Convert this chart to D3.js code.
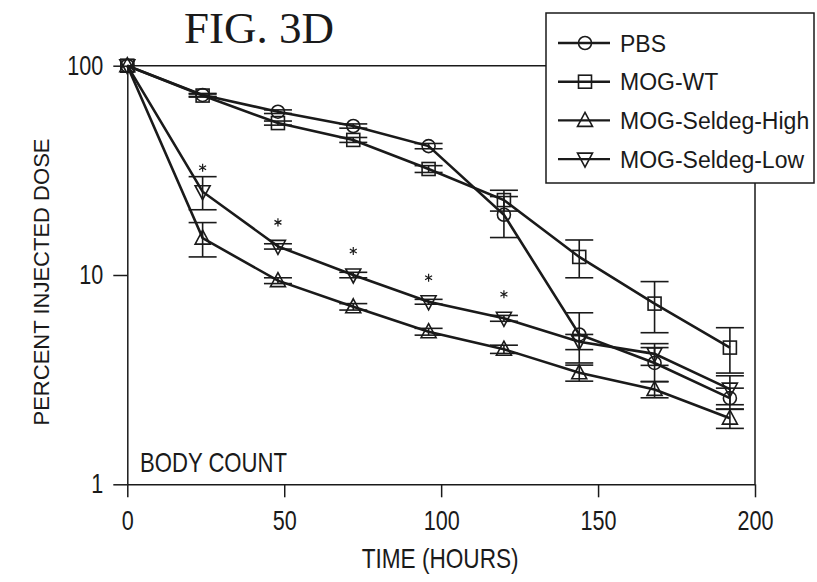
<!DOCTYPE html>
<html>
<head>
<meta charset="utf-8">
<script src="https://cdn.jsdelivr.net/npm/d3@7"></script>
<style>
  body { margin: 0; background: #fff; }
  svg { display: block; }
  text { font-family: "Liberation Sans", Arial, sans-serif; fill: #1a1a1a; }
</style>
</head>
<body>
<script>
// time points (hours)
var hours = [0, 24, 48, 72, 96, 120, 144, 168, 192];

// mean percent injected dose per group
var pbs      = [100, 72.5, 60.3, 51.5, 41.3, 19.4, 5.2, 3.8, 2.58];
var mogWt    = [100, 72, 53.2, 44.2, 32.1, 22.8, 12.2, 7.3, 4.5];
var seldegHi = [100, 15, 9.4, 7.05, 5.36, 4.42, 3.41, 2.84, 2.07];
var seldegLo = [100, 25, 13.7, 10.0, 7.45, 6.21, 4.8, 4.2, 2.85];

// error bars (+/-)
var pbsErr      = [0, 1.2, 1.2, 1.2, 1.2, 4.3, 1.4, 0.7, 0.3];
var mogWtErr    = [0, 1.2, 1.2, 1.2, 1.2, 2.6, 2.5, 2.0, 1.1];
var seldegHiErr = [0, 2.8, 0.3, 0.25, 0.2, 0.2, 0.3, 0.25, 0.22];
var seldegLoErr = [0, 4.5, 0.4, 0.3, 0.2, 0.2, 0.4, 0.5, 0.45];

// significance marks (hours)
var starHours = [24, 48, 72, 96, 120];

var xTicks = [0, 50, 100, 150, 200];
var yTicks = [1, 10, 100];

var groupNames = ["PBS", "MOG-WT", "MOG-Seldeg-High", "MOG-Seldeg-Low"];

var width = 817, height = 582;
var ink = "#1a1a1a";

var svg = d3.select("body").append("svg")
    .attr("width", width)
    .attr("height", height);

var x = d3.scaleLinear().domain([0, 200]).range([127.3, 755]);
var y = d3.scaleLog().domain([1, 100]).range([484.3, 65.7]);

var groups = [
    {name: groupNames[0], vals: pbs,      err: pbsErr,      shape: "circle"},
    {name: groupNames[1], vals: mogWt,    err: mogWtErr,    shape: "square"},
    {name: groupNames[2], vals: seldegHi, err: seldegHiErr, shape: "up"},
    {name: groupNames[3], vals: seldegLo, err: seldegLoErr, shape: "down"}
];

// draws a marker of the given shape centred at (cx, cy)
function marker(sel, shape, cx, cy) {
    if (shape === "circle") {
        sel.append("circle").attr("cx", cx).attr("cy", cy).attr("r", 6.5);
    } else if (shape === "square") {
        sel.append("rect").attr("x", cx - 6.5).attr("y", cy - 6.5)
            .attr("width", 13).attr("height", 13);
    } else {
        var s = shape === "up" ? 1 : -1;
        sel.append("path").attr("d",
            "M" + cx + "," + (cy - 8 * s) +
            "L" + (cx + 7.5) + "," + (cy + 6 * s) +
            "L" + (cx - 7.5) + "," + (cy + 6 * s) + "Z");
    }
}

// frame top + right
svg.append("path")
    .attr("d", "M" + x(0) + "," + y(100) + "H" + x(200) + "V" + y(1))
    .attr("fill", "none").attr("stroke", ink).attr("stroke-width", 1.5);

// x axis
var xAxis = svg.append("g")
    .attr("transform", "translate(0," + y(1) + ")")
    .call(d3.axisBottom(x).tickValues(xTicks).tickSize(13).tickSizeOuter(0).tickPadding(13));
xAxis.selectAll("text")
    .style("font-size", "28px")
    .attr("textLength", function(d) { return String(d).length * 12; })
    .attr("lengthAdjust", "spacingAndGlyphs");

// y axis
var yAxis = svg.append("g")
    .attr("transform", "translate(" + x(0) + ",0)")
    .call(d3.axisLeft(y).tickValues(yTicks).tickFormat(d3.format("d")).tickSize(14).tickSizeOuter(0).tickPadding(10));
yAxis.selectAll("text")
    .style("font-size", "27px")
    .attr("textLength", function(d) { return String(d).length * 12; })
    .attr("lengthAdjust", "spacingAndGlyphs");

svg.selectAll(".domain, .tick line").attr("stroke", ink).attr("stroke-width", 1.5);

// axis titles
svg.append("text")
    .attr("x", x(100) - 1).attr("y", 568)
    .attr("text-anchor", "middle")
    .attr("textLength", 157).attr("lengthAdjust", "spacingAndGlyphs")
    .style("font-size", "28px")
    .text("TIME (HOURS)");

svg.append("text")
    .attr("transform", "translate(49,282) rotate(-90)")
    .attr("text-anchor", "middle")
    .attr("textLength", 287).attr("lengthAdjust", "spacingAndGlyphs")
    .style("font-size", "22px")
    .text("PERCENT INJECTED DOSE");

svg.append("text")
    .attr("x", 140).attr("y", 472)
    .attr("textLength", 147).attr("lengthAdjust", "spacingAndGlyphs")
    .style("font-size", "28px")
    .text("BODY COUNT");

// title
svg.append("text")
    .attr("x", 259).attr("y", 43)
    .attr("text-anchor", "middle")
    .style("font-family", "'Liberation Serif', 'Times New Roman', serif")
    .style("font-size", "45px")
    .text("FIG. 3D");

var line = d3.line()
    .x(function(d, i) { return x(hours[i]); })
    .y(function(d) { return y(d); });

// lines
svg.selectAll(".series")
    .data(groups)
    .enter().append("path")
    .attr("class", "series")
    .attr("d", function(g) { return line(g.vals); })
    .attr("fill", "none")
    .attr("stroke", ink)
    .attr("stroke-width", 2.6);

// error bars
groups.forEach(function(g) {
    var eg = svg.append("g").attr("stroke", ink).attr("stroke-width", 1.6);
    g.vals.forEach(function(v, i) {
        var e = g.err[i];
        if (!e) return;
        var cx = x(hours[i]), y1 = y(v + e), y0 = y(v - e);
        eg.append("line").attr("x1", cx).attr("x2", cx).attr("y1", y1).attr("y2", y0);
        eg.append("line").attr("x1", cx - 14).attr("x2", cx + 14).attr("y1", y1).attr("y2", y1);
        eg.append("line").attr("x1", cx - 14).attr("x2", cx + 14).attr("y1", y0).attr("y2", y0);
    });
});

// markers
groups.forEach(function(g) {
    var mg = svg.append("g").attr("fill", "none").attr("stroke", ink).attr("stroke-width", 1.6);
    g.vals.forEach(function(v, i) {
        marker(mg, g.shape, x(hours[i]), y(v));
    });
});

// significance stars above the low-dose curve
var star = d3.symbol().type(d3.symbolAsterisk).size(45);
svg.selectAll(".star")
    .data(starHours)
    .enter().append("path")
    .attr("class", "star")
    .attr("d", star)
    .attr("transform", function(h) {
        return "translate(" + x(h) + "," + (y(seldegLo[hours.indexOf(h)]) - 24) + ")";
    })
    .attr("fill", "none").attr("stroke", ink).attr("stroke-width", 1.2);

// legend
var legend = svg.append("g");
legend.append("rect")
    .attr("x", 546).attr("y", 13).attr("width", 268).attr("height", 170)
    .attr("fill", "#fff").attr("stroke", ink).attr("stroke-width", 1.5);

groups.forEach(function(g, i) {
    var ly = 43 + i * 38.7;
    var row = legend.append("g").attr("fill", "none").attr("stroke", ink).attr("stroke-width", 1.6);
    row.append("line").attr("x1", 558).attr("x2", 610).attr("y1", ly).attr("y2", ly)
        .attr("stroke-width", 2.4);
    marker(row, g.shape, 585, ly);
    legend.append("text")
        .attr("x", 620).attr("y", ly + 8.5)
        .style("font-size", "23px")
        .text(g.name);
});
</script>
</body>
</html>
